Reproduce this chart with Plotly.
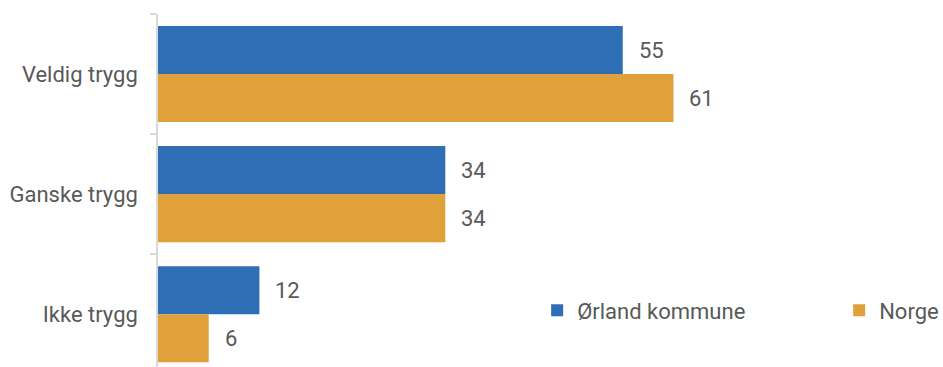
import plotly.graph_objects as go

categories = ["Veldig trygg", "Ganske trygg", "Ikke trygg"]
orland = [55, 34, 12]
norge = [61, 34, 6]
series_names = ["Ørland kommune", "Norge"]

blue = "#2E6EB5"
orange = "#E0A03A"
txt = "#595959"
font_family = "Roboto, 'Open Sans', sans-serif"
fs = 22

fig = go.Figure()
fig.add_trace(go.Bar(y=categories, x=orland, name=series_names[0], orientation="h",
                     marker=dict(color=blue, line=dict(width=0))))
fig.add_trace(go.Bar(y=categories, x=norge, name=series_names[1], orientation="h",
                     marker=dict(color=orange, line=dict(width=0))))

annotations = []
for cat, v in zip(categories, orland):
    annotations.append(dict(x=v, y=cat, text=str(v), showarrow=False, xanchor="left",
                            xshift=14, yshift=24, font=dict(size=fs, color=txt, family=font_family)))
for cat, v in zip(categories, norge):
    annotations.append(dict(x=v, y=cat, text=str(v), showarrow=False, xanchor="left",
                            xshift=14, yshift=-24, font=dict(size=fs, color=txt, family=font_family)))

fig.update_layout(
    width=943, height=367,
    margin=dict(l=158, r=0, t=14, b=0, pad=0, autoexpand=False),
    paper_bgcolor="white", plot_bgcolor="white",
    barmode="group", bargap=0.2, bargroupgap=0,
    font=dict(family=font_family, size=fs, color=txt),
    annotations=annotations,
    showlegend=True,
    legend=dict(orientation="h", x=0.483, xanchor="left", y=0.16, yanchor="middle",
                font=dict(size=fs, color=txt, family=font_family),
                entrywidth=257, entrywidthmode="pixels", bgcolor="rgba(0,0,0,0)",
                traceorder="normal", itemwidth=30),
    xaxis=dict(range=[0, 92.9], showgrid=False, zeroline=False, showticklabels=False,
               showline=False, ticks="", automargin=False),
    yaxis=dict(range=[2.44, -0.5], showgrid=False, zeroline=False, showline=True,
               linecolor="#D9D9D9", linewidth=1.5, ticks="outside", tickson="boundaries",
               ticklen=6, tickcolor="#D9D9D9", tickwidth=1.5, ticklabelstandoff=14,
               automargin=False,
               tickfont=dict(size=fs, color=txt, family=font_family)),
)

fig.write_html("out.html", config={"displayModeBar": False},
               post_script="document.body.style.margin='0';")
